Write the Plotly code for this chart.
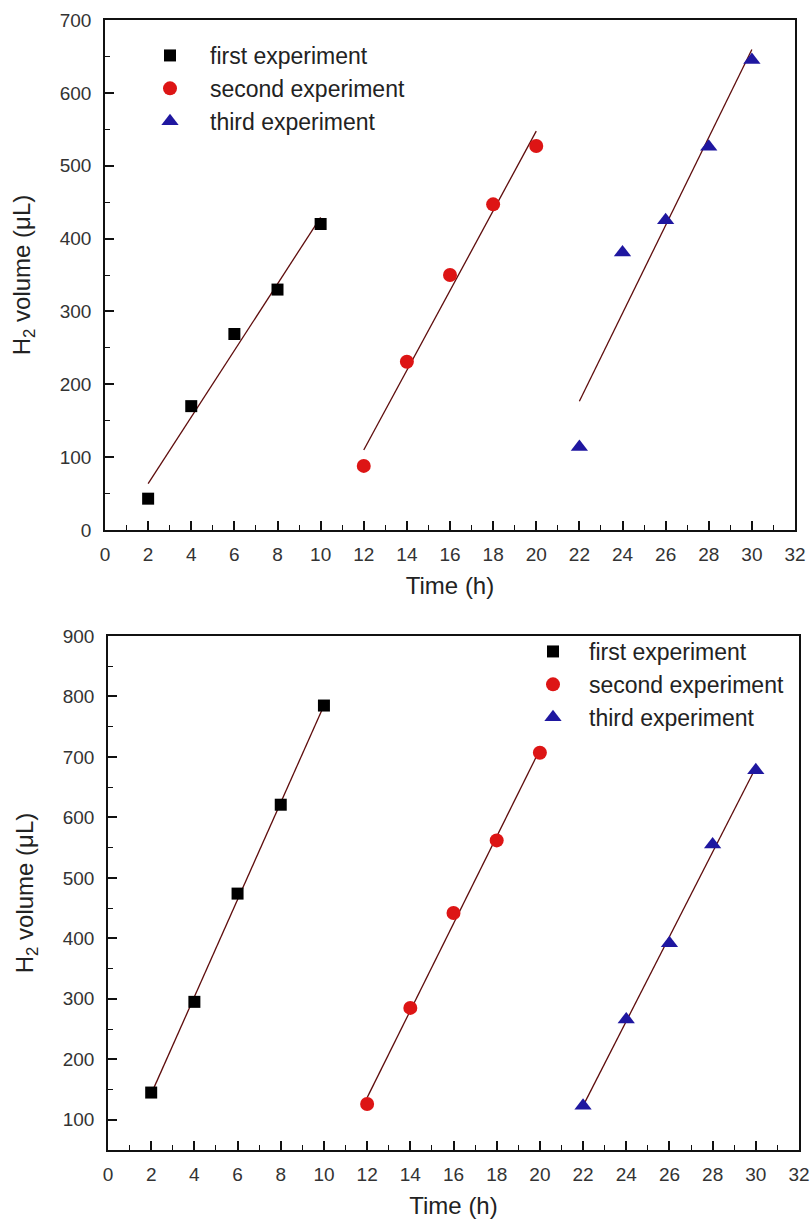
import numpy as np
import plotly.graph_objects as go

# ---- data ----
time_first = [2, 4, 6, 8, 10]
time_second = [12, 14, 16, 18, 20]
time_third = [22, 24, 26, 28, 30]

top_first = [43, 170, 269, 330, 420]
top_second = [88, 231, 350, 447, 527]
top_third = [114, 381, 425, 526, 645]

bot_first = [145, 295, 474, 621, 785]
bot_second = [126, 285, 442, 562, 707]
bot_third = [123, 266, 392, 555, 678]

x_ticks = list(range(0, 33, 2))
top_y_ticks = list(range(0, 701, 100))
bot_y_ticks = list(range(100, 901, 100))

names = ["first experiment", "second experiment", "third experiment"]

W, H = 810, 1222
FONT = "Arial, Liberation Sans, sans-serif"
FIT_COLOR = "#5e0c0c"
colors = ["#000000", "#dd1515", "#1f17a0"]
symbols = ["square", "circle", "triangle-up"]
msizes = [12, 14, 15]

fig = go.Figure()

panels = [
    dict(xs=[time_first, time_second, time_third],
         ys=[top_first, top_second, top_third], xa="x", ya="y", legend="legend"),
    dict(xs=[time_first, time_second, time_third],
         ys=[bot_first, bot_second, bot_third], xa="x2", ya="y2", legend="legend2"),
]

for p in panels:
    for i in range(3):
        xs = np.array(p["xs"][i], dtype=float)
        ys = np.array(p["ys"][i], dtype=float)
        k, b = np.polyfit(xs, ys, 1)
        xf = np.array([xs.min(), xs.max()])
        fig.add_trace(go.Scatter(x=xf, y=k * xf + b, mode="lines",
                                 line=dict(color=FIT_COLOR, width=1.3),
                                 showlegend=False, xaxis=p["xa"], yaxis=p["ya"],
                                 hoverinfo="skip"))
    for i in range(3):
        fig.add_trace(go.Scatter(x=p["xs"][i], y=p["ys"][i], mode="markers",
                                 name=names[i],
                                 marker=dict(symbol=symbols[i], size=msizes[i],
                                             color=colors[i], line=dict(width=0)),
                                 xaxis=p["xa"], yaxis=p["ya"], legend=p["legend"]))


def px_x(v):
    return v / W


def px_y(v):
    return 1 - v / H


axis_common = dict(
    showline=True, linecolor="#111111", linewidth=1.5, mirror=True,
    ticks="inside", ticklen=9, tickwidth=1.5, tickcolor="#111111",
    showgrid=False, zeroline=False, automargin=False,
    tickfont=dict(family=FONT, size=19, color="#333333"),
)
minor_common = dict(ticks="inside", ticklen=5, tickwidth=1.3, tickcolor="#111111", showgrid=False)

title_font = dict(family=FONT, size=24, color="#222222")
legend_font = dict(family=FONT, size=23, color="#222222")

fig.update_layout(
    width=W, height=H,
    margin=dict(l=0, r=0, t=0, b=0),
    paper_bgcolor="white", plot_bgcolor="white",
    font=dict(family=FONT),
    xaxis=dict(domain=[px_x(105), px_x(795)], range=[0, 32], tickvals=x_ticks,
               anchor="y", minor=dict(dtick=1, **minor_common),
               title=dict(text="Time (h)", font=title_font, standoff=14),
               ticklabelstandoff=6, **axis_common),
    yaxis=dict(domain=[px_y(530), px_y(20)], range=[0, 700], tickvals=top_y_ticks,
               anchor="x", minor=dict(dtick=50, **minor_common),
               title=dict(text="H<sub>2</sub> volume (μL)", font=title_font, standoff=22),
               ticklabelstandoff=8, **axis_common),
    xaxis2=dict(domain=[px_x(108), px_x(799)], range=[0, 32], tickvals=x_ticks,
                anchor="y2", minor=dict(dtick=1, **minor_common),
                title=dict(text="Time (h)", font=title_font, standoff=14),
                ticklabelstandoff=6, **axis_common),
    yaxis2=dict(domain=[px_y(1150), px_y(636)], range=[50, 900], tickvals=bot_y_ticks,
                anchor="x2", minor=dict(dtick=50, **minor_common),
                title=dict(text="H<sub>2</sub> volume (μL)", font=title_font, standoff=22),
                ticklabelstandoff=8, **axis_common),
    legend=dict(x=px_x(130), y=px_y(34), xanchor="left", yanchor="top",
                bgcolor="rgba(0,0,0,0)", tracegroupgap=0,
                font=legend_font, itemwidth=70),
    legend2=dict(x=px_x(517), y=px_y(630), xanchor="left", yanchor="top",
                 bgcolor="rgba(0,0,0,0)", tracegroupgap=0,
                 font=legend_font, itemwidth=62),
)

fig.write_html("out.html")
